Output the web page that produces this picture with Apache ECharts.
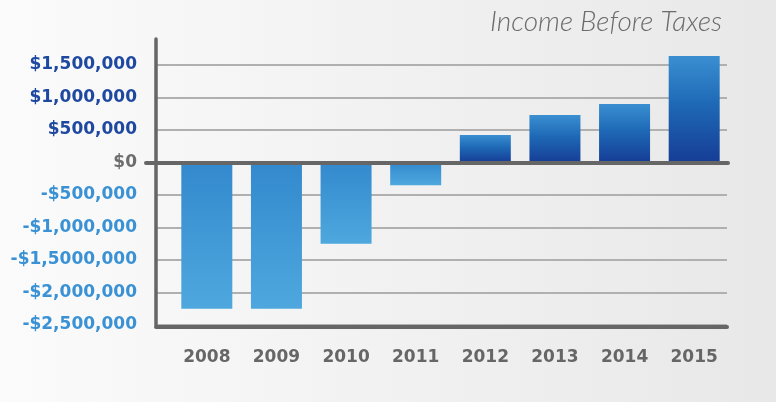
<!DOCTYPE html>
<html>
<head>
<meta charset="utf-8">
<script src="https://cdn.jsdelivr.net/npm/echarts@6/dist/echarts.min.js"></script>
<style>
html,body{margin:0;padding:0;}
#chart{width:776px;height:402px;}
</style>
</head>
<body>
<div id="chart"></div>
<script>
const categories = ['2008', '2009', '2010', '2011', '2012', '2013', '2014', '2015'];
const incomeValues = [-2250000, -2250000, -1250000, -350000, 425000, 730000, 900000, 1640000];
const yTickValues = [-2500000, -2000000, -1500000, -1000000, -500000, 0, 500000, 1000000, 1500000];
const yTickLabels = ['-$2,500,000', '-$2,000,000', '-$1,5000,000', '-$1,000,000', '-$500,000', '$0', '$500,000', '$1,000,000', '$1,500,000'];
const titleText = 'Income Before Taxes';

const Y_MIN = -2500000, Y_MAX = 1900000, Y_STEP = 500000;
const gridTop = 39, gridHeight = 286;

const negGrad = new echarts.graphic.LinearGradient(0, 0, 0, 1, [
  {offset: 0, color: '#3389cd'}, {offset: 1, color: '#4ea8de'}
]);
const posGrad = new echarts.graphic.LinearGradient(0, 0, 0, 1, [
  {offset: 0, color: '#3a8fd1'}, {offset: 0.45, color: '#1e69b6'}, {offset: 1, color: '#163d95'}
]);

const barData = incomeValues.map(v => ({value: v, itemStyle: {color: v < 0 ? negGrad : posGrad}}));

function labelFor(v) {
  const i = yTickValues.indexOf(v);
  return i >= 0 ? yTickLabels[i] : '';
}
function colorFor(v) {
  v = Number(v);
  if (v > 0) return '#1f49a0';
  if (v < 0) return '#3a92d5';
  return '#6e6e6e';
}

const chart = echarts.init(document.getElementById('chart'), null, {renderer: 'canvas'});
chart.setOption({
  backgroundColor: new echarts.graphic.LinearGradient(0, 0, 1, 0, [
    {offset: 0, color: '#fbfbfb'}, {offset: 1, color: '#e8e8e8'}
  ]),
  animation: false,
  title: {
    text: titleText,
    right: 49,
    top: 3,
    textStyle: {fontFamily: 'Lato', fontStyle: 'italic', fontWeight: 300, fontSize: 28, color: '#6b6b6b'}
  },
  grid: [
    {left: 156, right: 49, top: gridTop, height: gridHeight},
    {left: 172, right: 47, top: gridTop, height: gridHeight},
    {left: 146, right: 48, top: gridTop, height: gridHeight}
  ],
  xAxis: [
    {
      gridIndex: 0, type: 'value', min: 0, max: 1, position: 'bottom', offset: 2,
      axisLine: {show: true, onZero: false, lineStyle: {color: '#666666', width: 4}},
      axisTick: {show: false}, axisLabel: {show: false}, splitLine: {show: false}
    },
    {
      gridIndex: 1, type: 'category', data: categories, position: 'bottom',
      axisLine: {show: false}, axisTick: {show: false}, splitLine: {show: false},
      axisLabel: {margin: 24, fontFamily: 'DejaVu Sans', fontWeight: 'bold', fontSize: 17, color: '#666666'}
    },
    {
      gridIndex: 2, type: 'value', min: 0, max: 1, z: 5,
      axisLine: {show: true, onZero: true, lineStyle: {color: '#666666', width: 4}},
      axisTick: {show: false}, axisLabel: {show: false}, splitLine: {show: false}
    }
  ],
  yAxis: [
    {
      gridIndex: 0, type: 'value', min: Y_MIN, max: Y_MAX, interval: Y_STEP,
      axisLine: {show: true, onZero: false, lineStyle: {color: '#666666', width: 3.5}},
      axisTick: {show: false},
      splitLine: {show: true, showMaxLine: false, lineStyle: {color: '#b0b0b0', width: 2}},
      axisLabel: {
        margin: 19, showMaxLabel: false,
        fontFamily: 'DejaVu Sans', fontWeight: 'bold', fontSize: 17,
        formatter: labelFor, color: colorFor
      }
    },
    {gridIndex: 1, type: 'value', min: Y_MIN, max: Y_MAX, interval: Y_STEP, show: false},
    {gridIndex: 2, type: 'value', min: Y_MIN, max: Y_MAX, interval: Y_STEP, show: false}
  ],
  series: [{
    type: 'bar',
    xAxisIndex: 1,
    yAxisIndex: 1,
    barWidth: 51,
    data: barData
  }]
});
</script>
</body>
</html>
